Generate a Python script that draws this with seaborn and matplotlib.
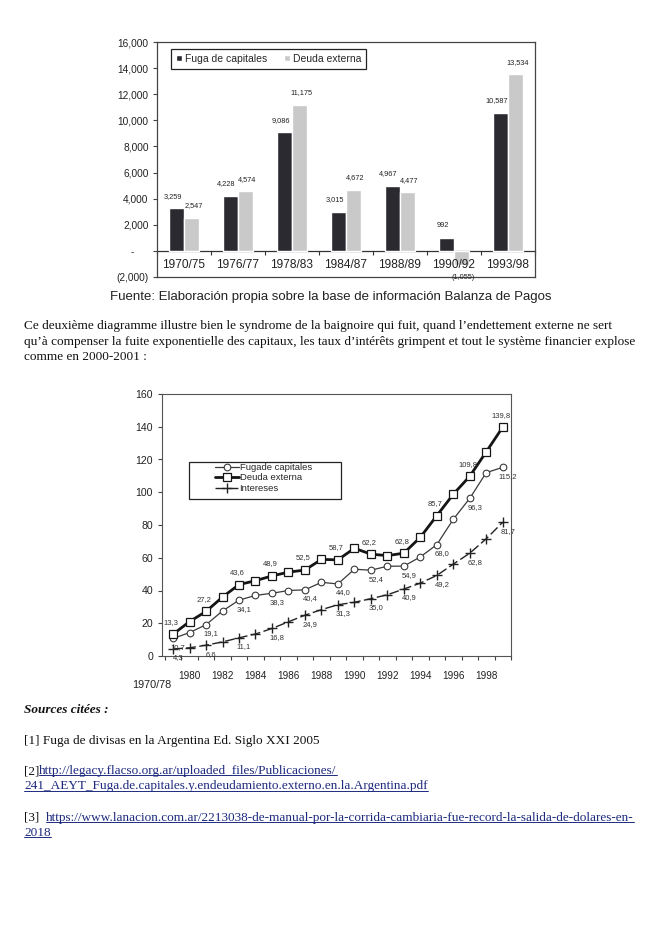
import numpy as np
import pandas as pd
import matplotlib
matplotlib.use("Agg")
import matplotlib.pyplot as plt
import seaborn as sns
from matplotlib.lines import Line2D
from matplotlib.patches import Rectangle
from matplotlib.transforms import IdentityTransform

# cuadro 1 : flujos por periodo (millones US$)
periodos = ["1970/75", "1976/77", "1978/83", "1984/87", "1988/89", "1990/92", "1993/98"]
fuga_periodo = [3259, 4228, 9086, 3015, 4967, 992, 10587]
deuda_periodo = [2547, 4574, 11175, 4672, 4477, -1055, 13534]

# cuadro 2 : stocks acumulados (miles de millones US$)
anios = list(range(1979, 2000))
fuga_acum = [10.7, 14.3, 19.1, 27.5, 34.1, 37.0, 38.3, 40.0, 40.4, 45.0, 44.0,
             53.0, 52.4, 54.8, 54.9, 60.5, 68.0, 83.5, 96.3, 112.0, 115.2]
deuda_acum = [13.3, 21.0, 27.2, 36.0, 43.6, 46.0, 48.9, 51.2, 52.5, 59.0, 58.7,
              65.8, 62.2, 61.3, 62.8, 72.5, 85.7, 98.8, 109.8, 124.7, 139.8]
intereses_acum = [4.3, 5.0, 6.6, 8.6, 11.1, 13.4, 16.8, 20.9, 24.9, 28.3, 31.3,
                  32.8, 35.0, 37.4, 40.9, 44.5, 49.2, 56.1, 62.8, 71.6, 81.7]
anios_etiqueta = list(range(1980, 1999, 2))

fuente = "Fuente: Elaboración propia sobre la base de información Balanza de Pagos"
parrafo = [
    "Ce deuxième diagramme illustre bien le syndrome de la baignoire qui fuit, quand l’endettement externe ne sert",
    "qu’à compenser la fuite exponentielle des capitaux, les taux d’intérêts grimpent et tout le système financier explose",
    "comme en 2000-2001 :",
]
sources_titre = "Sources citées :"
source1 = "[1] Fuga de divisas en la Argentina Ed. Siglo XXI 2005"
url2a = "http://legacy.flacso.org.ar/uploaded_files/Publicaciones/"
url2b = "241_AEYT_Fuga.de.capitales.y.endeudamiento.externo.en.la.Argentina.pdf"
url3a = "https://www.lanacion.com.ar/2213038-de-manual-por-la-corrida-cambiaria-fue-record-la-salida-de-dolares-en-"
url3b = "2018"

sns.set_style("white")
plt.rcParams["font.family"] = ["Liberation Sans", "DejaVu Sans"]
serif = ["Liberation Serif", "DejaVu Serif"]
bleu = "#1d2a7e"
txtsize = 9.5

W, H = 661, 935
fig = plt.figure(figsize=(W / 100, H / 100), dpi=100)


def fx(px):
    return px / W


def fy(py):
    return 1 - py / H


# ---------------- chart 1 : barras
ax1 = fig.add_axes([fx(157), fy(277), (535 - 157) / W, (277 - 42) / H])
df_bar = pd.DataFrame({
    "periodo": periodos * 2,
    "valor": fuga_periodo + deuda_periodo,
    "serie": ["Fuga de capitales"] * len(periodos) + ["Deuda externa"] * len(periodos),
})
sns.barplot(data=df_bar, x="periodo", y="valor", hue="serie",
            palette=["#2a2a30", "#c9c9c9"], width=0.56, saturation=1,
            errorbar=None, ax=ax1)
ax1.set_axisbelow(False)
ax1.set_ylim(-2000, 16000)
ax1.set_xlim(-0.5, len(periodos) - 0.5)
ax1.set_xlabel("")
ax1.set_ylabel("")

for cont, vals, dx in zip(ax1.containers, [fuga_periodo, deuda_periodo], [-4, 2]):
    for rect, v in zip(cont, vals):
        x = rect.get_x() + rect.get_width() / 2
        lab = f"{v:,}" if v >= 0 else f"({-v:,})"
        ax1.annotate(lab, (x, v), xytext=(dx, 12 if v >= 0 else -13),
                     textcoords="offset pixels", ha="center", va="center",
                     fontsize=5.3, color="#222222")

yt = list(range(-2000, 16001, 2000))
ax1.set_yticks(yt)
ax1.set_yticklabels(["(2,000)" if t < 0 else ("-     " if t == 0 else f"{t:,}") for t in yt])
ax1.tick_params(axis="y", left=True, length=3, width=0.8, pad=3, labelsize=7.3,
                color="#444444", labelcolor="#222222")
ax1.tick_params(axis="x", bottom=False, length=0, pad=-13, labelsize=8.6, labelcolor="#222222")
for s in ax1.spines.values():
    s.set_color("#444444")
    s.set_linewidth(0.9)

sec = ax1.secondary_xaxis(2000 / 18000)
sec.set_xticks(np.arange(-0.5, len(periodos), 1))
sec.tick_params(axis="x", bottom=True, length=3, width=0.8, labelbottom=False, color="#333333")
sec.spines["bottom"].set_color("#333333")
sec.spines["bottom"].set_linewidth(0.9)

ax1.legend(loc="upper left", bbox_to_anchor=(0.037, 0.972), ncol=2, frameon=True,
           fancybox=False, edgecolor="#222222", framealpha=1, fontsize=7.5,
           handlelength=0.6, handleheight=0.6, handletextpad=0.25,
           columnspacing=1.6, borderpad=0.5, borderaxespad=0)
ax1.get_legend().get_frame().set_linewidth(0.9)

fig.text(fx(331), fy(297), fuente, ha="center", va="center", fontsize=9.5, color="#222222")

# ---------------- texte
for i, ligne in enumerate(parrafo):
    fig.text(fx(24), fy(326.5 + 15.5 * i), ligne, family=serif, fontsize=txtsize,
             va="center", color="#111111")

# ---------------- chart 2 : lineas
ax2 = fig.add_axes([fx(162), fy(656), (511 - 162) / W, (656 - 394) / H])
sns.lineplot(x=anios, y=fuga_acum, ax=ax2, color="#3a3a3a", lw=0.9, marker="o",
             ms=4.8, mfc="white", mec="#3a3a3a", mew=0.8, label="Fugade capitales")
sns.lineplot(x=anios, y=deuda_acum, ax=ax2, color="#151515", lw=2.0, marker="s",
             ms=6, mfc="white", mec="#151515", mew=0.9, label="Deuda externa")
sns.lineplot(x=anios, y=intereses_acum, ax=ax2, color="#222222", lw=1.0,
             linestyle=(0, (7, 2.5)), marker="+", ms=7.5, mew=1.0, mec="#222222",
             label="Intereses")
ax2.set_xlim(1978.33, 1999.5)
ax2.set_ylim(0, 160)
ax2.set_yticks(range(0, 161, 20))
ax2.set_xticks(anios_etiqueta)
ax2.set_xticks(np.arange(1978.5, 1999.6, 1), minor=True)
ax2.tick_params(axis="y", left=True, length=3, width=0.8, labelsize=7.6, color="#444444",
                labelcolor="#222222")
ax2.tick_params(axis="x", which="major", bottom=False, length=0, pad=11, labelsize=7.2,
                labelcolor="#222222")
ax2.tick_params(axis="x", which="minor", bottom=True, length=3, width=0.8, color="#444444")
for s in ax2.spines.values():
    s.set_color("#555555")
    s.set_linewidth(0.8)

for i in range(0, len(anios), 2):
    ax2.annotate(f"{deuda_acum[i]:.1f}".replace(".", ","), (anios[i], deuda_acum[i]),
                 xytext=(-2, 12), textcoords="offset pixels", ha="center", va="center",
                 fontsize=5.5, color="#333333")
    ax2.annotate(f"{fuga_acum[i]:.1f}".replace(".", ","), (anios[i], fuga_acum[i]),
                 xytext=(5, -9), textcoords="offset pixels", ha="center", va="center",
                 fontsize=5.5, color="#333333")
    ax2.annotate(f"{intereses_acum[i]:.1f}".replace(".", ","), (anios[i], intereses_acum[i]),
                 xytext=(5, -9), textcoords="offset pixels", ha="center", va="center",
                 fontsize=5.5, color="#333333")

ax2.add_patch(Rectangle(((189 - 162) / 349, (656 - 499) / 262), 152 / 349, 37 / 262,
                        transform=ax2.transAxes, fill=False, edgecolor="#222222",
                        lw=0.9, zorder=5, clip_on=False))
ax2.legend(loc="upper left", bbox_to_anchor=((215 - 162) / 349, (656 - 463) / 262),
           frameon=False, borderpad=0, borderaxespad=0, fontsize=6.8,
           handlelength=2.5, handletextpad=0.1, labelspacing=0.15)
ax2.set_xlabel("")
ax2.set_ylabel("")
ax2.annotate("1970/78", (0, 0), xycoords="axes fraction", xytext=(-10, -29),
             textcoords="offset pixels", ha="center", va="center", fontsize=7.8,
             color="#222222")

# ---------------- sources
fig.text(fx(24), fy(710), sources_titre, family=serif, fontsize=txtsize,
         fontweight="bold", style="italic", va="center", color="#111111")
fig.text(fx(24), fy(741), source1, family=serif, fontsize=txtsize, va="center", color="#111111")

t2 = fig.text(fx(24), fy(771), "[2]", family=serif, fontsize=txtsize, va="center", color="#111111")
t3 = fig.text(fx(24), fy(817.5), "[3]  ", family=serif, fontsize=txtsize, va="center", color="#111111")
renderer = fig.canvas.get_renderer()
x2 = t2.get_window_extent(renderer).x1
x3 = t3.get_window_extent(renderer).x1

liens = [
    fig.text(x2 / W, fy(771), url2a, family=serif, fontsize=txtsize, va="center", color=bleu),
    fig.text(fx(24), fy(786.5), url2b, family=serif, fontsize=txtsize, va="center", color=bleu),
    fig.text(x3 / W, fy(817.5), url3a, family=serif, fontsize=txtsize, va="center", color=bleu),
    fig.text(fx(24), fy(833), url3b, family=serif, fontsize=txtsize, va="center", color=bleu),
]
for t in liens:
    bb = t.get_window_extent(renderer)
    fig.add_artist(Line2D([bb.x0, bb.x1], [bb.y0 + 2, bb.y0 + 2], transform=IdentityTransform(),
                          color=bleu, lw=0.7))

fig.savefig("out.png", dpi=100, facecolor="white")
